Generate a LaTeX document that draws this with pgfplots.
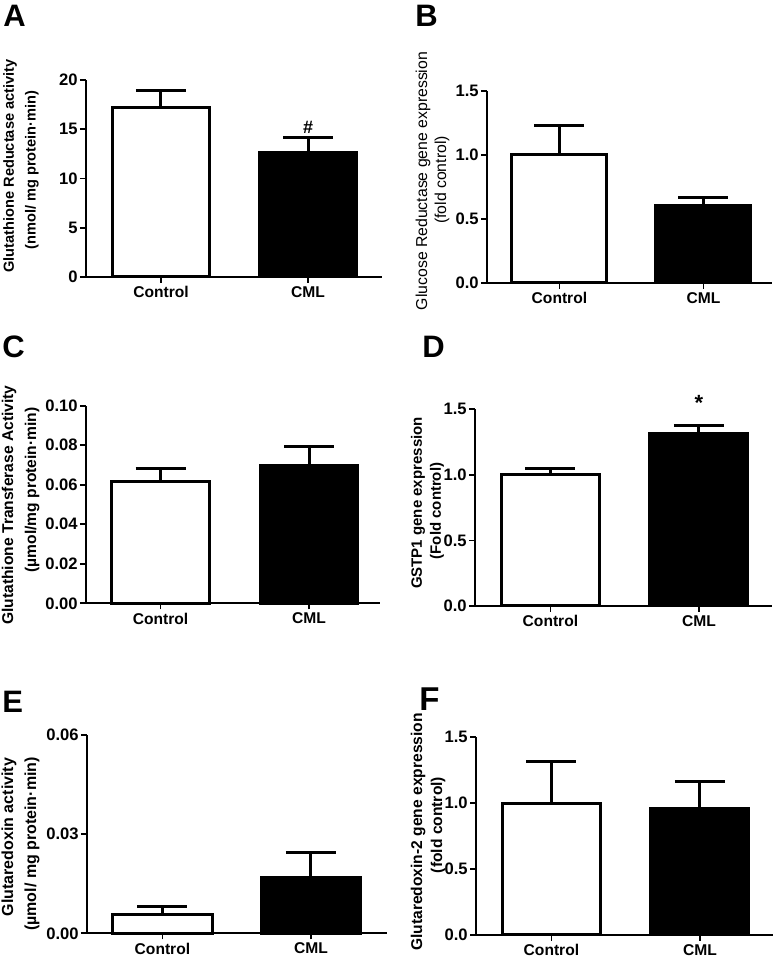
\documentclass[border=0pt]{standalone}
\usepackage{pgfplots}
\pgfplotsset{compat=1.18}
\usepackage{fontspec}
\setmainfont{Liberation Sans}
\pgfplotsset{
  panel/.style={
    scale only axis, anchor=south west, clip=false,
    axis lines*=left, ymin=0, enlargelimits=false,
    xtick={0,1}, xticklabels={Control,CML},
    tick align=outside, major tick length=3pt,
    axis line style={line width=1pt, black},
    every tick/.style={line width=0.9pt, black},
    xticklabel style={font=\bfseries\fontsize{7.8}{9}\selectfont, inner ysep=1.5pt},
    yticklabel style={font=\bfseries\fontsize{8.3}{9}\selectfont, inner xsep=1pt},
    /pgf/number format/assume math mode=true,
    scaled y ticks=false,
  },
  wbar/.style={ybar, bar width=#1, bar shift=0pt, fill=white, draw=black, line width=1.5pt,
    error bars/.cd, y dir=plus, y explicit,
    error bar style={line width=1.5pt, black},
    error mark options={rotate=90, mark size=12.5pt, line width=1.5pt, black}},
  kbar/.style={ybar, bar width=#1, bar shift=0pt, fill=black, draw=black, line width=1.5pt,
    error bars/.cd, y dir=plus, y explicit,
    error bar style={line width=1.5pt, black},
    error mark options={rotate=90, mark size=12.5pt, line width=1.5pt, black}},
}
\begin{document}
\begin{tikzpicture}
\path[use as bounding box] (0pt,0pt) rectangle (388.5pt,480pt);

% Panel letters
\node[anchor=base west, inner sep=0pt, font=\bfseries\fontsize{15.5}{16}\selectfont] at (1.5pt,466.5pt) {A};
\node[anchor=base west, inner sep=0pt, font=\bfseries\fontsize{15.5}{16}\selectfont] at (207.5pt,466.5pt) {B};
\node[anchor=base west, inner sep=0pt, font=\bfseries\fontsize{15.5}{16}\selectfont] at (1pt,301pt) {C};
\node[anchor=base west, inner sep=0pt, font=\bfseries\fontsize{15.5}{16}\selectfont] at (211pt,301pt) {D};
\node[anchor=base west, inner sep=0pt, font=\bfseries\fontsize{15.5}{16}\selectfont] at (1pt,123.5pt) {E};
\node[anchor=base west, inner sep=0pt, font=\bfseries\fontsize{16.5}{18}\selectfont] at (209.5pt,124.5pt) {F};

% Y labels
\node[rotate=90, inner sep=0pt, font=\bfseries\fontsize{7.3}{9}\selectfont] at (5pt,397pt) {Glutathione Reductase activity};
\node[rotate=90, inner sep=0pt, font=\bfseries\fontsize{7.3}{9}\selectfont] at (16pt,395pt) {(nmol/ mg protein·min)};
\node[rotate=90, inner sep=0pt, font=\fontsize{7.9}{9}\selectfont] at (211.5pt,389.5pt) {Glucose Reductase gene expression};
\node[rotate=90, inner sep=0pt, font=\fontsize{7.9}{9}\selectfont] at (221pt,390pt) {(fold control)};
\node[rotate=90, inner sep=0pt, font=\bfseries\fontsize{7.8}{9}\selectfont] at (4.5pt,227.5pt) {Glutathione Transferase Activity};
\node[rotate=90, inner sep=0pt, font=\bfseries\fontsize{7.8}{9}\selectfont] at (16pt,235pt) {(µmol/mg protein·min)};
\node[rotate=90, inner sep=0pt, font=\bfseries\fontsize{7.5}{9}\selectfont] at (209pt,228.5pt) {GSTP1 gene expression};
\node[rotate=90, inner sep=0pt, font=\bfseries\fontsize{7.5}{9}\selectfont] at (218.5pt,224.5pt) {(Fold control)};
\node[rotate=90, inner sep=0pt, font=\bfseries\fontsize{8}{9}\selectfont] at (4.5pt,61.5pt) {Glutaredoxin activity};
\node[rotate=90, inner sep=0pt, font=\bfseries\fontsize{8}{9}\selectfont] at (16pt,58pt) {(µmol/ mg protein·min)};
\node[rotate=90, inner sep=0pt, font=\bfseries\fontsize{7.8}{9}\selectfont] at (209pt,64pt) {Glutaredoxin-2 gene expression};
\node[rotate=90, inner sep=0pt, font=\bfseries\fontsize{7.8}{9}\selectfont] at (219pt,67.5pt) {(fold control)};

% Panel A
\begin{axis}[panel, at={(43pt,341.5pt)}, width=148pt, height=98.5pt,
  xmin=-0.510, xmax=1.503, ymax=20, ytick={0,5,10,15,20}]
\addplot[wbar=0.655] coordinates {(0,17.2) +- (0,1.75)};
\addplot[kbar=0.655] coordinates {(1,12.66) +- (0,1.54)};
\node[anchor=base, font=\bfseries\fontsize{9}{10}\selectfont] at (axis cs:1,14.59) {\#};
\end{axis}

% Panel B
\begin{axis}[panel, at={(243.5pt,338.5pt)}, width=142.5pt, height=96pt,
  xmin=-0.503, xmax=1.476, ymax=1.5, ytick={0,0.5,1,1.5},
  yticklabel style={/pgf/number format/.cd, fixed, fixed zerofill, precision=1}]
\addplot[wbar=0.66] coordinates {(0,1.0) +- (0,0.227)};
\addplot[kbar=0.66] coordinates {(1,0.604) +- (0,0.066)};
\end{axis}

% Panel C
\begin{axis}[panel, at={(43pt,178.35pt)}, width=147pt, height=98.8pt,
  xmin=-0.502, xmax=1.478, ymax=0.10, ytick={0,0.02,0.04,0.06,0.08,0.10},
  yticklabel style={/pgf/number format/.cd, fixed, fixed zerofill, precision=2}]
\addplot[wbar=0.655] coordinates {(0,0.0617) +- (0,0.0064)};
\addplot[kbar=0.655] coordinates {(1,0.0698) +- (0,0.0093)};
\end{axis}

% Panel D
\begin{axis}[panel, at={(237.5pt,177pt)}, width=148.5pt, height=98.35pt,
  xmin=-0.508, xmax=1.492, ymax=1.5, ytick={0,0.5,1,1.5},
  yticklabel style={/pgf/number format/.cd, fixed, fixed zerofill, precision=1}]
\addplot[wbar=0.66] coordinates {(0,1.0) +- (0,0.05)};
\addplot[kbar=0.66] coordinates {(1,1.317) +- (0,0.056)};
\node[anchor=base, font=\bfseries\fontsize{11}{12}\selectfont] at (axis cs:1,1.49) {*};
\end{axis}

% Panel E
\begin{axis}[panel, at={(43.5pt,13.35pt)}, width=150pt, height=99.15pt,
  xmin=-0.508, xmax=1.512, ymax=0.06, ytick={0,0.03,0.06},
  yticklabel style={/pgf/number format/.cd, fixed, fixed zerofill, precision=2}]
\addplot[wbar=0.67] coordinates {(0,0.00554) +- (0,0.0025)};
\addplot[kbar=0.67] coordinates {(1,0.01694) +- (0,0.0076)};
\end{axis}

% Panel F
\begin{axis}[panel, at={(238pt,12.5pt)}, width=148.5pt, height=98.85pt,
  xmin=-0.508, xmax=1.492, ymax=1.5, ytick={0,0.5,1,1.5},
  yticklabel style={/pgf/number format/.cd, fixed, fixed zerofill, precision=1}]
\addplot[wbar=0.66] coordinates {(0,1.0) +- (0,0.318)};
\addplot[kbar=0.66] coordinates {(1,0.961) +- (0,0.202)};
\end{axis}
\end{tikzpicture}
\end{document}
